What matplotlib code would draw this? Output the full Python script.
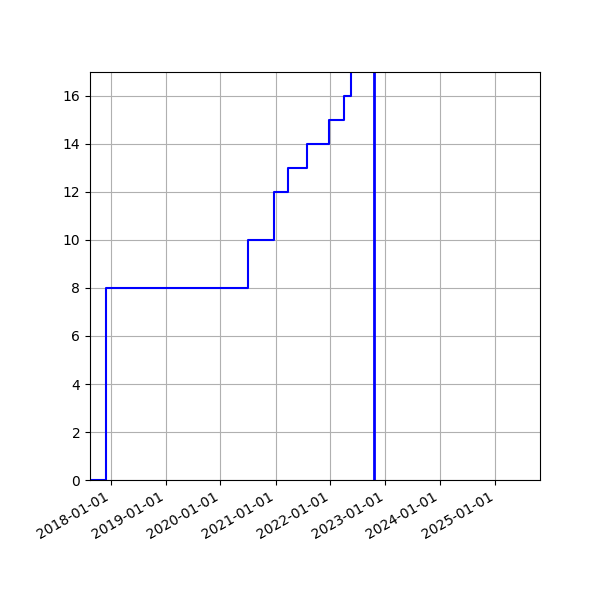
import matplotlib
matplotlib.use("Agg")
import matplotlib.pyplot as plt
import matplotlib.dates as mdates
import numpy as np
import pandas as pd

event_dates = ["2017-08-17", "2017-12-03", "2020-07-01", "2020-07-05",
               "2020-12-20", "2020-12-24", "2021-03-27", "2021-07-30",
               "2021-12-24", "2022-04-01", "2022-05-18", "2022-05-25",
               "2022-07-01", "2022-09-01"]
counts = [0, 8, 9, 10, 11, 12, 13, 14, 15, 16, 17, 18, 19, 20]
marker_date = "2022-10-20"
x_start = "2017-08-17"
x_end = "2025-10-25"

dates = pd.to_datetime(event_dates)

fig = plt.figure(figsize=(6, 6), dpi=100)
ax = fig.add_axes([0.15, 0.2, 0.75, 0.68])
ax.step(dates, counts, where="post", color="blue")
ax.axvline(pd.Timestamp(marker_date), color="blue", lw=2)
ax.set_xlim(pd.Timestamp(x_start), pd.Timestamp(x_end))
ax.set_ylim(0, 17)
ax.xaxis.set_major_locator(mdates.YearLocator())
ax.xaxis.set_major_formatter(mdates.DateFormatter("%Y-%m-%d"))
ax.grid(True)
for lbl in ax.get_xticklabels():
    lbl.set_rotation(30)
    lbl.set_ha("right")
fig.savefig("out.png")
